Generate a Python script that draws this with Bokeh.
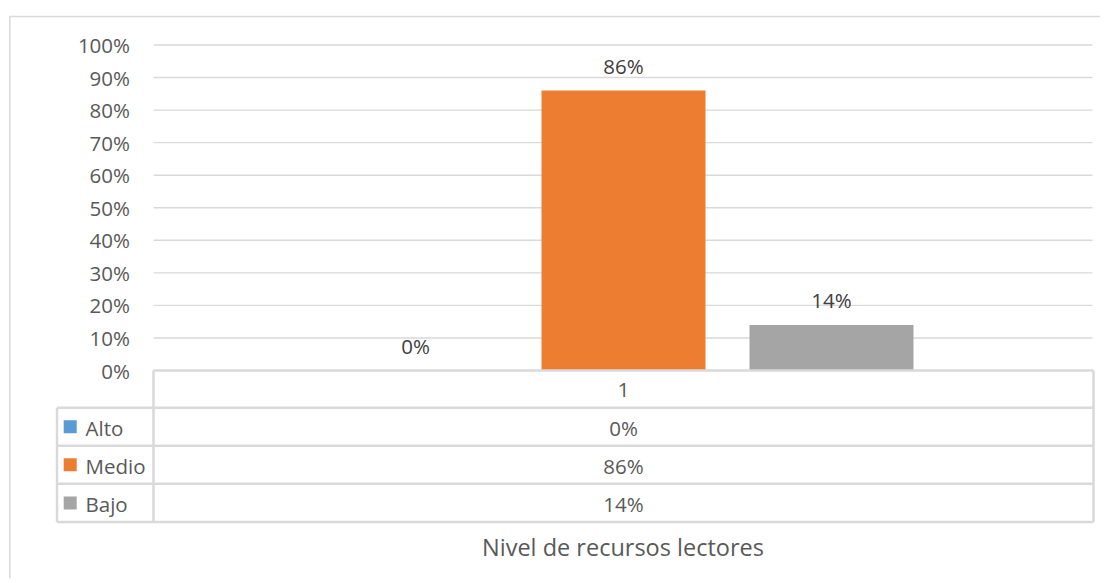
from bokeh.plotting import figure
from bokeh.models import Range1d
from bokeh.core.properties import value
from bokeh.embed import file_html
from bokeh.resources import INLINE

# ---------------- data ----------------
series = ["Alto", "Medio", "Bajo"]
values = [0.00, 0.86, 0.14]
value_labels = ["0%", "86%", "14%"]
colors = ["#5B9BD5", "#ED7D31", "#A5A5A5"]
category = ["1"]
y_ticks = [0.0, 0.1, 0.2, 0.3, 0.4, 0.5, 0.6, 0.7, 0.8, 0.9, 1.0]
y_tick_labels = ["0%", "10%", "20%", "30%", "40%", "50%", "60%", "70%", "80%", "90%", "100%"]
x_title = "Nivel de recursos lectores"

# ---------------- layout (page pixels) ----------------
W, H = 1100, 578
OX, OY = 0, 0
ZERO_Y = 370.0
PX_PER_UNIT = 325.5
PLOT_L, PLOT_R = 153.0, 1093.0
LEG_L = 56.5
ROW_LINES = [370.0, 407.3, 445.3, 483.3, 521.5]
BAR_W, BAR_STEP = 164.0, 208.0
FONT = value("Open Sans")
GRID_C = "#D9D9D9"
TXT_C = "#595959"


def vy(img_y):
    return (ZERO_Y - img_y) / PX_PER_UNIT


p = figure(width=W, height=H,
           x_range=Range1d(OX, OX + W), y_range=Range1d(vy(OY + H), vy(OY)),
           output_backend="svg", toolbar_location=None,
           x_axis_location=None, y_axis_location=None,
           min_border=0, min_border_left=0, min_border_right=0,
           min_border_top=0, min_border_bottom=0)
p.grid.visible = False
p.outline_line_color = None
p.background_fill_color = "white"
p.border_fill_color = "white"

# outer chart border (left and top visible)
p.segment(x0=[9.3, 9.3], y0=[vy(16), vy(16)], x1=[9.3, OX + W], y1=[vy(OY + H), vy(16)],
          line_color=GRID_C, line_width=1.5)

# gridlines
gt = [t for t in y_ticks if t > 0]
p.segment(x0=[PLOT_L] * len(gt), x1=[1092.0] * len(gt), y0=gt, y1=gt,
          line_color=GRID_C, line_width=1.4)

# y tick labels
p.text(x=[129.5] * len(y_ticks), y=y_ticks, text=y_tick_labels,
       text_font=FONT, text_font_size="20.5px", text_color=TXT_C,
       text_align="right", text_baseline="middle")

# bars
center = (PLOT_L + PLOT_R) / 2
n = len(series)
xs = [center + (i - (n - 1) / 2) * BAR_STEP for i in range(n)]
p.vbar(x=xs, top=values, bottom=0, width=BAR_W, fill_color=colors, line_color=None)

# bar labels
p.text(x=xs, y=[v + 24.5 / PX_PER_UNIT for v in values], text=value_labels,
       text_font=FONT, text_font_size="20.5px", text_color="#404040",
       text_align="center", text_baseline="middle")

# data table lines
hx0, hx1, hy = [], [], []
for k, ly in enumerate(ROW_LINES):
    hx0.append(PLOT_L if k == 0 else LEG_L)
    hx1.append(PLOT_R)
    hy.append(vy(ly))
p.segment(x0=hx0, x1=hx1, y0=hy, y1=hy, line_color=GRID_C, line_width=2.5)
p.segment(x0=[PLOT_L, PLOT_R, LEG_L], x1=[PLOT_L, PLOT_R, LEG_L],
          y0=[vy(ROW_LINES[0]), vy(ROW_LINES[0]), vy(ROW_LINES[1])],
          y1=[vy(ROW_LINES[-1])] * 3, line_color=GRID_C, line_width=2.5)

# table texts
row_c = [(ROW_LINES[i] + ROW_LINES[i + 1]) / 2 + 1 for i in range(len(ROW_LINES) - 1)]
p.text(x=[center] * (1 + n), y=[vy(c) for c in row_c], text=category + value_labels,
       text_font=FONT, text_font_size="20.5px", text_color=TXT_C,
       text_align="center", text_baseline="middle")

# legend keys in the table
p.scatter(x=[69.7] * n, y=[vy(c - 1) for c in row_c[1:]], marker="square", size=13,
          fill_color=colors, line_color=None)
p.text(x=[85.0] * n, y=[vy(c) for c in row_c[1:]], text=series,
       text_font=FONT, text_font_size="20.5px", text_color=TXT_C,
       text_align="left", text_baseline="middle")

# axis title
p.text(x=[center - 0.5], y=[vy(546.0)], text=[x_title],
       text_font=FONT, text_font_size="23.5px", text_color=TXT_C,
       text_align="center", text_baseline="middle")

open("out.html", "w").write(file_html(p, INLINE))
